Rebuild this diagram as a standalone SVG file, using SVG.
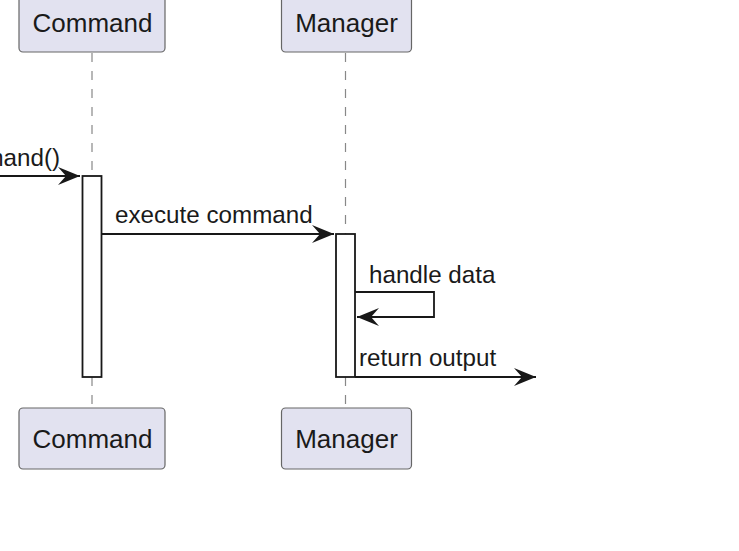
<svg xmlns="http://www.w3.org/2000/svg" width="739" height="551" viewBox="0 0 739 551">
<defs>
<style>
.box{fill:#E2E2F0;stroke:#666;stroke-width:1.2}
.ptxt{font-family:"Liberation Sans",Arial,sans-serif;font-size:26px;fill:#1a1a1a;text-anchor:middle}
.mtxt{font-family:"Liberation Sans",Arial,sans-serif;font-size:24.2px;fill:#1a1a1a}
.life{stroke:#888;stroke-width:1.2;stroke-dasharray:9,9;fill:none}
.act{fill:#fff;stroke:#181818;stroke-width:1.8}
.msg{stroke:#181818;stroke-width:1.8;fill:none;marker-end:url(#ah)}
</style>
<marker id="ah" markerUnits="userSpaceOnUse" viewBox="-24 -10 26 20" refX="0" refY="0" markerWidth="26" markerHeight="20" orient="auto">
<path d="M0,0 L-22,-9 L-14,0 L-22,9 Z" fill="#181818"/>
</marker>
</defs>
<rect width="739" height="551" fill="#fff"/>
<g id="lifelines">
<line class="life" x1="92" y1="53" x2="92" y2="408"/>
<line class="life" x1="345.5" y1="53" x2="345.5" y2="408"/>
</g>
<g id="Command">
<rect class="box" x="19" y="-9" width="146" height="61" rx="4"/>
<text class="ptxt" x="92.5" y="32">Command</text>
</g>
<g id="Manager">
<rect class="box" x="281.5" y="-9" width="130" height="61" rx="4"/>
<text class="ptxt" x="346.5" y="32">Manager</text>
</g>
<g id="Command-bottom">
<rect class="box" x="19" y="408" width="146" height="61" rx="4"/>
<text class="ptxt" x="92.5" y="448">Command</text>
</g>
<g id="Manager-bottom">
<rect class="box" x="281.5" y="408" width="130" height="61" rx="4"/>
<text class="ptxt" x="346.5" y="448">Manager</text>
</g>
<g id="activations">
<rect class="act" x="82.5" y="176" width="19" height="201"/>
<rect class="act" x="336" y="234" width="19" height="143"/>
</g>
<g id="connectors">
<line class="msg" x1="-5" y1="176" x2="80" y2="176"/>
<text class="mtxt" x="60" y="166" text-anchor="end">mand()</text>
<line class="msg" x1="102" y1="234" x2="334" y2="234"/>
<text class="mtxt" x="115" y="223">execute command</text>
<polyline class="msg" points="355,292 434,292 434,317 357,317"/>
<text class="mtxt" x="369" y="283">handle data</text>
<line class="msg" x1="355" y1="377" x2="536" y2="377"/>
<text class="mtxt" x="359" y="366">return output</text>
</g>
</svg>
